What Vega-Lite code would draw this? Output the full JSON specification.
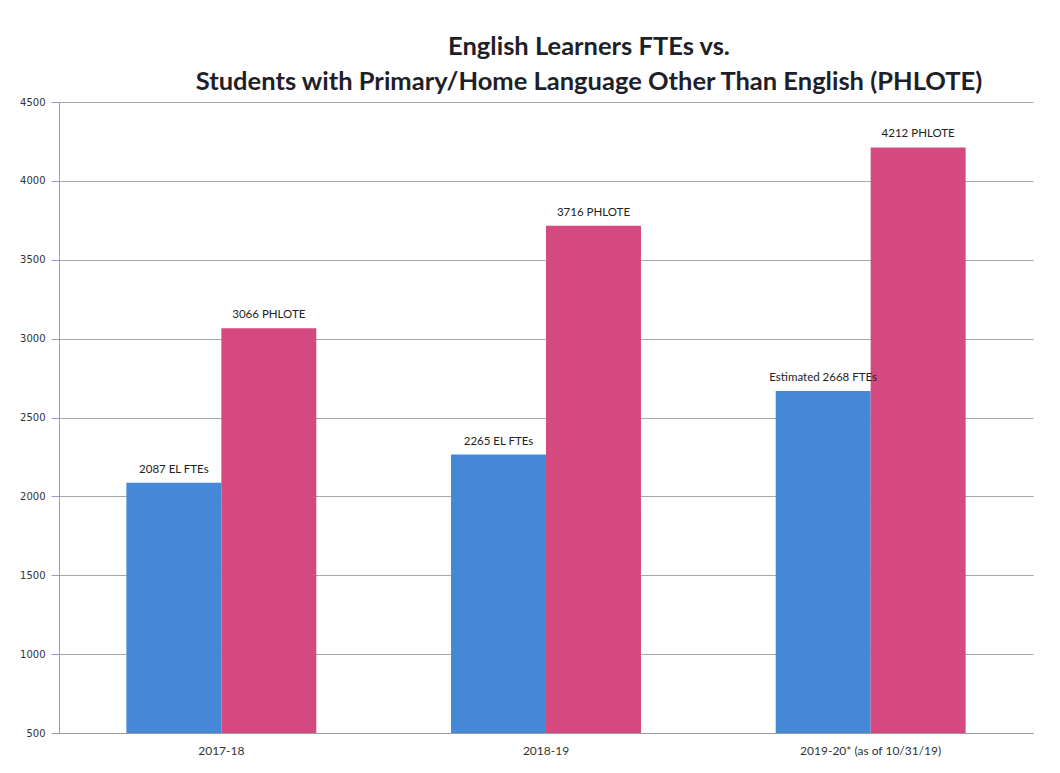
{
  "$schema": "https://vega.github.io/schema/vega-lite/v6.json",
  "autosize": {"type": "none"},
  "width": 974,
  "height": 631,
  "padding": {"left": 59, "top": 102, "right": 27, "bottom": 40},
  "background": "white",
  "title": {
    "text": ["English Learners FTEs vs.", "Students with Primary/Home Language Other Than English (PHLOTE)"],
    "anchor": "middle",
    "dx": 43,
    "font": "Lato",
    "fontWeight": "bold",
    "fontSize": 25.5,
    "lineHeight": 35,
    "color": "#1f1f2a",
    "offset": 2
  },
  "data": {
    "values": [
      {"year": "2017-18", "series": "EL FTEs", "value": 2087, "label": "2087 EL FTEs"},
      {"year": "2017-18", "series": "PHLOTE", "value": 3066, "label": "3066 PHLOTE"},
      {"year": "2018-19", "series": "EL FTEs", "value": 2265, "label": "2265 EL FTEs"},
      {"year": "2018-19", "series": "PHLOTE", "value": 3716, "label": "3716 PHLOTE"},
      {"year": "2019-20* (as of 10/31/19)", "series": "EL FTEs", "value": 2668, "label": "Estimated 2668 FTEs"},
      {"year": "2019-20* (as of 10/31/19)", "series": "PHLOTE", "value": 4212, "label": "4212 PHLOTE"}
    ]
  },
  "encoding": {
    "x": {
      "field": "year", "type": "nominal", "sort": null,
      "scale": {"paddingInner": 0.415, "paddingOuter": 0.2075},
      "axis": {
        "title": null, "labelAngle": 0, "labelFont": "Lato", "labelFontSize": 12,
        "labelColor": "#333", "ticks": false,
        "domainColor": "#999", "labelPadding": 12, "grid": false
      }
    },
    "xOffset": {"field": "series", "type": "nominal", "sort": ["EL FTEs", "PHLOTE"]},
    "y": {
      "field": "value", "type": "quantitative",
      "scale": {"domain": [500, 4500], "nice": false, "zero": false},
      "axis": {
        "title": null, "values": [500, 1000, 1500, 2000, 2500, 3000, 3500, 4000, 4500],
        "format": "d",
        "labelFont": "DejaVu Sans", "labelFontSize": 10, "labelColor": "#333",
        "tickSize": 8, "tickColor": "#8f9bc9", "domainColor": "#8f9bc9",
        "gridColor": "#a8a8a8", "gridWidth": 1, "labelPadding": 6
      }
    }
  },
  "layer": [
    {
      "mark": {"type": "bar", "clip": true},
      "encoding": {
        "y2": {"datum": 500},
        "color": {
          "field": "series", "type": "nominal", "legend": null,
          "scale": {"domain": ["EL FTEs", "PHLOTE"], "range": ["#4589d6", "#d44a80"]}
        }
      }
    },
    {
      "mark": {"type": "text", "baseline": "bottom", "dy": -8, "font": "Lato", "fontSize": 11.5, "color": "#222"},
      "encoding": {"text": {"field": "label"}}
    }
  ],
  "config": {"view": {"stroke": null}}
}
